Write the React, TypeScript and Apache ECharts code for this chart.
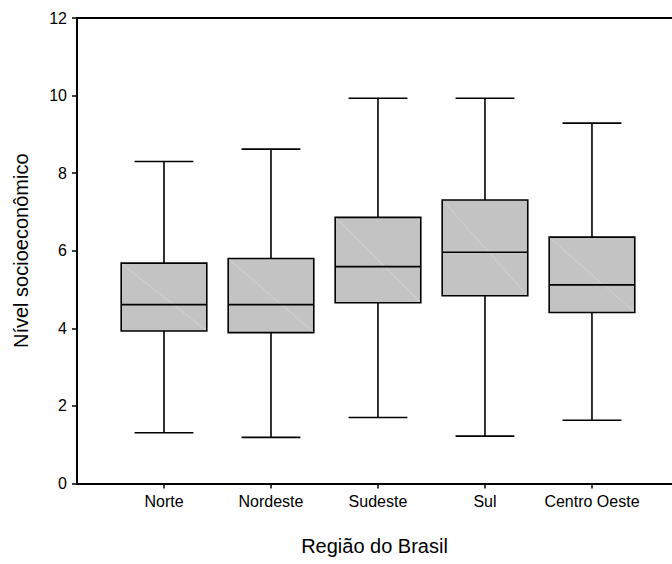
import React, { useEffect, useRef } from "react";
import * as echarts from "echarts";

// Regions of Brazil and the five-number summary of each box
const regions = ["Norte", "Nordeste", "Sudeste", "Sul", "Centro Oeste"];
const whiskerLow = [1.31, 1.19, 1.70, 1.22, 1.63];
const quartile1 = [3.93, 3.89, 4.66, 4.84, 4.41];
const medians = [4.61, 4.61, 5.59, 5.96, 5.12];
const quartile3 = [5.68, 5.80, 6.86, 7.31, 6.35];
const whiskerHigh = [8.30, 8.62, 9.93, 9.93, 9.29];

const yTicks = [0, 2, 4, 6, 8, 10, 12];
const categoryPositions = [1, 2, 3, 4, 5];

const FONT = "'Liberation Sans', Arial, Helvetica, sans-serif";

export default function App() {
  const ref = useRef<HTMLDivElement>(null);

  useEffect(() => {
    if (!ref.current) return;
    const chart = echarts.init(ref.current, undefined, { renderer: "svg" });

    const data = regions.map((_, i) => [
      categoryPositions[i],
      whiskerLow[i],
      quartile1[i],
      medians[i],
      quartile3[i],
      whiskerHigh[i],
    ]);

    const xMin = 0.187;
    const xMax = 5.748;

    const renderItem = (params: any, api: any) => {
      const x = api.value(0);
      const lo = api.coord([x, api.value(1)]);
      const q1 = api.coord([x, api.value(2)]);
      const md = api.coord([x, api.value(3)]);
      const q3 = api.coord([x, api.value(4)]);
      const hi = api.coord([x, api.value(5)]);
      const unit = api.size([1, 0])[0];
      const boxHalf = unit * 0.4;
      const capHalf = unit * 0.275;
      const cx = lo[0];
      const line = { stroke: "#000", lineWidth: 1.6 };
      return {
        type: "group",
        children: [
          { type: "line", shape: { x1: cx, y1: q3[1], x2: cx, y2: hi[1] }, style: line },
          { type: "line", shape: { x1: cx, y1: q1[1], x2: cx, y2: lo[1] }, style: line },
          { type: "line", shape: { x1: cx - capHalf, y1: hi[1], x2: cx + capHalf, y2: hi[1] }, style: line },
          { type: "line", shape: { x1: cx - capHalf, y1: lo[1], x2: cx + capHalf, y2: lo[1] }, style: line },
          {
            type: "rect",
            shape: { x: cx - boxHalf, y: q3[1], width: boxHalf * 2, height: q1[1] - q3[1] },
            style: { fill: "#c3c3c3", stroke: "#000", lineWidth: 1.6 },
          },
          {
            type: "line",
            shape: { x1: cx - boxHalf + 1, y1: q3[1] + 1, x2: cx + boxHalf - 1, y2: q1[1] - 1 },
            style: { stroke: "#d6d6d6", lineWidth: 0.8 },
          },
          { type: "line", shape: { x1: cx - boxHalf, y1: md[1], x2: cx + boxHalf, y2: md[1] }, style: line },
        ],
      };
    };

    chart.setOption({
      animation: false,
      backgroundColor: "#fff",
      grid: { left: 77, right: 0, top: 18, bottom: 80.5, containLabel: false },
      xAxis: [
        {
          type: "value",
          min: xMin,
          max: xMax,
          name: "Região do Brasil",
          nameLocation: "middle",
          nameGap: 52,
          nameTextStyle: { fontFamily: FONT, fontSize: 20, color: "#000" },
          axisLine: { show: true, onZero: false, lineStyle: { color: "#000", width: 2 } },
          axisTick: { show: true, customValues: categoryPositions, length: 5, lineStyle: { color: "#000", width: 1.5 } },
          axisLabel: {
            customValues: categoryPositions,
            formatter: (v: number) => regions[Math.round(v) - 1] ?? "",
            fontFamily: FONT,
            fontSize: 16,
            color: "#000",
            margin: 10,
          },
          splitLine: { show: false },
        },
        {
          type: "value",
          position: "top",
          min: xMin,
          max: xMax,
          axisLine: { show: true, onZero: false, lineStyle: { color: "#000", width: 2 } },
          axisTick: { show: false },
          axisLabel: { show: false },
          splitLine: { show: false },
        },
      ],
      yAxis: {
        type: "value",
        min: 0,
        max: 12,
        interval: 2,
        name: "Nível socioeconômico",
        nameLocation: "middle",
        nameGap: 46,
        nameTextStyle: { fontFamily: FONT, fontSize: 20, color: "#000" },
        axisLine: { show: true, onZero: false, lineStyle: { color: "#000", width: 2 } },
        axisTick: { show: true, length: 5, lineStyle: { color: "#000", width: 1.5 } },
        axisLabel: {
          fontFamily: FONT,
          fontSize: 16,
          color: "#000",
          margin: 10,
          formatter: (v: number) => (yTicks.includes(v) ? String(v) : ""),
        },
        splitLine: { show: false },
      },
      series: [
        {
          type: "custom",
          name: "Nível socioeconômico",
          xAxisIndex: 0,
          yAxisIndex: 0,
          renderItem,
          encode: { x: 0, y: [1, 2, 3, 4, 5] },
          data,
          clip: false,
        },
      ],
    });

    return () => chart.dispose();
  }, []);

  return (
    <div
      ref={ref}
      style={{ position: "fixed", left: 0, top: 0, width: 672, height: 564 }}
    />
  );
}
